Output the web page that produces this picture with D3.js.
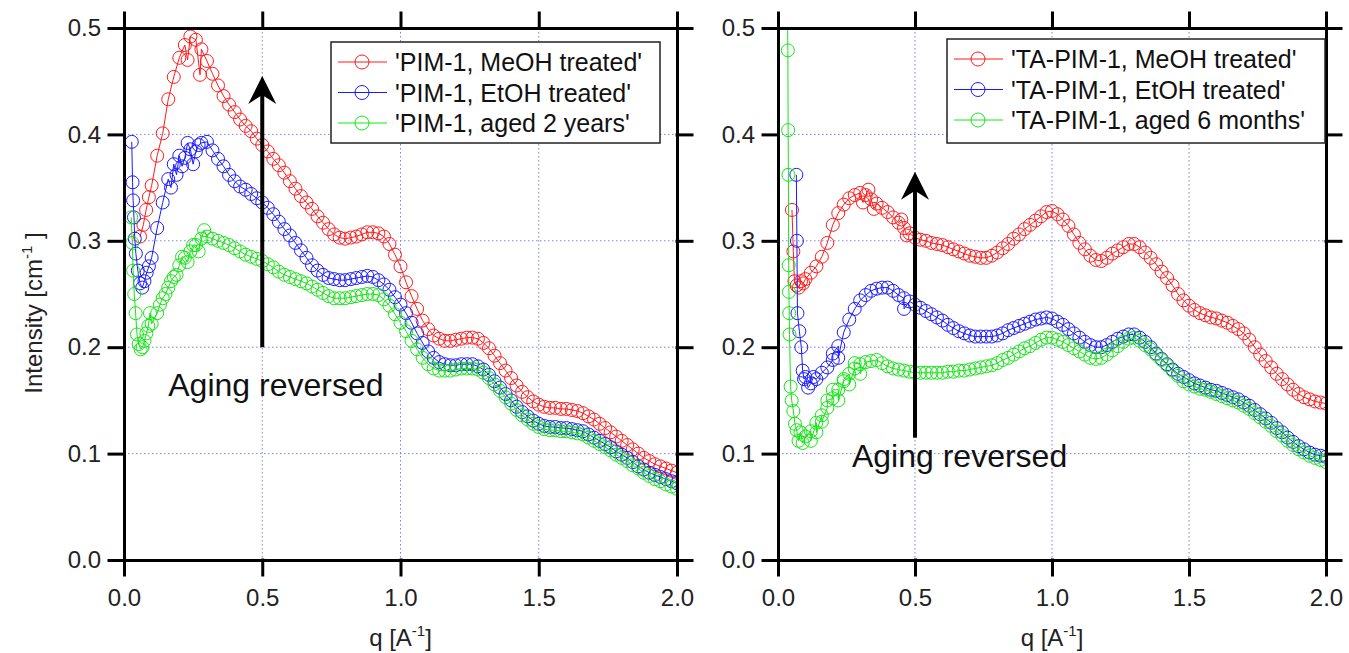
<!DOCTYPE html>
<html lang="en">
<head>
<meta charset="UTF-8">
<title>SAXS - aging reversed</title>
<script src="https://cdn.jsdelivr.net/npm/d3@7/dist/d3.min.js"></script>
<style>
  body { margin: 0; background: #fff; }
  svg { font-family: "Liberation Sans", Arial, sans-serif; }
  .grid line { stroke: #7f7ff0; stroke-width: 1; stroke-dasharray: 1.5, 2.5; }
  .axis path, .axis line { stroke: #000; stroke-width: 3; stroke-linecap: square; }
  .axis text { fill: #222; }
</style>
</head>
<body>
<script>
// q grid shared by both panels
const qGrid = [
  0.10, 0.12, 0.14, 0.16, 0.18, 0.20, 0.22, 0.24, 0.26, 0.28,
  0.30, 0.32, 0.34, 0.36, 0.38, 0.40, 0.42, 0.44, 0.46, 0.48,
  0.50, 0.52, 0.54, 0.56, 0.58, 0.60, 0.62, 0.64, 0.66, 0.68,
  0.70, 0.72, 0.74, 0.76, 0.78, 0.80, 0.82, 0.84, 0.86, 0.88,
  0.90, 0.92, 0.94, 0.96, 0.98, 1.00, 1.02, 1.04, 1.06, 1.08,
  1.10, 1.12, 1.14, 1.16, 1.18, 1.20, 1.22, 1.24, 1.26, 1.28,
  1.30, 1.32, 1.34, 1.36, 1.38, 1.40, 1.42, 1.44, 1.46, 1.48,
  1.50, 1.52, 1.54, 1.56, 1.58, 1.60, 1.62, 1.64, 1.66, 1.68,
  1.70, 1.72, 1.74, 1.76, 1.78, 1.80, 1.82, 1.84, 1.86, 1.88,
  1.90, 1.92, 1.94, 1.96, 1.98, 2.00
];

// left panel: PIM-1
const pimMeoh = [
  .352, .380, .401, .433, .454, .472, .484, .492, .489, .480,
  .469, .457, .446, .436, .428, .421, .414, .408, .403, .396,
  .390, .384, .377, .371, .364, .356, .349, .342, .336, .330,
  .323, .317, .311, .306, .303, .302, .303, .304, .306, .308,
  .308, .307, .304, .297, .287, .276, .261, .248, .236, .225,
  .217, .211, .208, .206, .206, .207, .208, .209, .209, .208,
  .204, .199, .192, .185, .178, .171, .164, .158, .153, .149,
  .146, .144, .143, .143, .142, .142, .141, .140, .138, .135,
  .132, .128, .124, .120, .116, .112, .108, .104, .100, .096,
  .093, .090, .088, .086, .084, .082
];
const pimMeohLow = [[0.058, .304], [0.070, .315], [0.080, .329], [0.090, .341], [0.230, .470], [0.275, .456]];

const pimEtoh = [
  .284, .312, .336, .358, .372, .380, .378, .386, .384, .392,
  .393, .385, .377, .370, .362, .356, .351, .348, .344, .340,
  .336, .331, .325, .318, .311, .305, .298, .291, .284, .277,
  .272, .268, .265, .264, .263, .263, .264, .265, .266, .267,
  .266, .263, .259, .254, .247, .240, .232, .223, .213, .204,
  .196, .190, .186, .184, .183, .183, .184, .184, .184, .182,
  .179, .174, .168, .162, .156, .150, .144, .139, .135, .131,
  .128, .126, .125, .125, .124, .124, .123, .122, .121, .118,
  .115, .112, .109, .106, .102, .099, .096, .092, .088, .085,
  .082, .080, .078, .076, .074, .072
];
const pimEtohLow = [
  [0.028, .393], [0.031, .355], [0.033, .338], [0.036, .322], [0.039, .302], [0.043, .288],
  [0.050, .272], [0.058, .260], [0.066, .256], [0.074, .262], [0.082, .270], [0.090, .276],
  [0.170, .350], [0.190, .362], [0.210, .370], [0.230, .392], [0.250, .372], [0.270, .390]
];

const pimAged = [
  .222, .232, .246, .256, .266, .277, .284, .290, .296, .302,
  .304, .302, .300, .298, .296, .293, .290, .287, .285, .283,
  .281, .278, .275, .271, .268, .266, .264, .262, .260, .257,
  .254, .251, .248, .246, .246, .246, .247, .248, .249, .250,
  .250, .249, .245, .239, .231, .223, .215, .206, .198, .190,
  .184, .180, .178, .178, .178, .179, .180, .180, .180, .179,
  .176, .171, .165, .159, .153, .147, .141, .136, .132, .128,
  .125, .123, .122, .122, .121, .121, .120, .119, .118, .115,
  .112, .109, .106, .103, .099, .096, .093, .089, .086, .082,
  .079, .076, .074, .071, .069, .067
];
const pimAgedLow = [
  [0.026, .322], [0.030, .298], [0.033, .272], [0.037, .250], [0.042, .232], [0.047, .212],
  [0.053, .203], [0.060, .198], [0.067, .200], [0.074, .206], [0.081, .213], [0.088, .220],
  [0.094, .232], [0.130, .240], [0.150, .250], [0.170, .262], [0.190, .268], [0.210, .285],
  [0.230, .280], [0.250, .296], [0.270, .290], [0.290, .310]
];

// right panel: TA-PIM-1
const taMeoh = [
  .264, .270, .276, .285, .298, .315, .326, .334, .340, .343,
  .345, .343, .339, .335, .331, .327, .322, .317, .312, .307,
  .303, .301, .300, .298, .297, .296, .294, .292, .290, .288,
  .286, .285, .284, .284, .286, .289, .293, .297, .302, .306,
  .311, .315, .319, .323, .327, .328, .325, .320, .314, .306,
  .298, .292, .286, .282, .281, .284, .288, .291, .294, .297,
  .297, .294, .289, .284, .278, .271, .265, .258, .250, .244,
  .239, .235, .232, .230, .228, .227, .225, .223, .220, .217,
  .213, .207, .200, .193, .187, .181, .175, .170, .165, .160,
  .156, .153, .151, .149, .148, .147
];
const taMeohLow = [
  [0.051, .329], [0.056, .290], [0.060, .262], [0.068, .258], [0.076, .256], [0.084, .262],
  [0.092, .260], [0.310, .336], [0.330, .348], [0.350, .330], [0.450, .320], [0.470, .305]
];

const taEtoh = [
  .172, .166, .170, .176, .181, .188, .201, .214, .226, .236,
  .244, .249, .253, .255, .256, .256, .253, .249, .246, .243,
  .240, .237, .234, .231, .228, .225, .221, .218, .215, .213,
  .211, .210, .210, .210, .210, .211, .213, .216, .218, .220,
  .222, .224, .226, .227, .228, .227, .224, .221, .217, .213,
  .209, .205, .202, .200, .200, .202, .205, .208, .210, .212,
  .212, .209, .205, .200, .194, .189, .184, .179, .175, .172,
  .169, .166, .164, .162, .160, .159, .157, .155, .153, .151,
  .148, .145, .141, .137, .133, .129, .124, .120, .115, .111,
  .107, .104, .101, .099, .098, .097
];
const taEtohLow = [
  [0.067, .362], [0.069, .300], [0.071, .232], [0.078, .215], [0.085, .200], [0.090, .178],
  [0.095, .170], [0.110, .162], [0.130, .172], [0.200, .194], [0.220, .190], [0.460, .236]
];

const taAged = [
  .116, .121, .129, .136, .143, .152, .160, .168, .175, .180,
  .184, .186, .187, .188, .185, .182, .180, .179, .178, .177,
  .176, .176, .176, .176, .176, .176, .177, .177, .178, .178,
  .179, .180, .181, .182, .183, .185, .188, .190, .193, .196,
  .199, .201, .204, .207, .209, .209, .207, .205, .202, .199,
  .196, .193, .190, .189, .190, .193, .197, .201, .205, .208,
  .209, .206, .202, .198, .193, .188, .183, .178, .173, .168,
  .165, .163, .161, .160, .158, .156, .154, .152, .150, .148,
  .145, .142, .138, .134, .130, .126, .121, .117, .112, .108,
  .104, .101, .098, .096, .094, .092
];
const taAgedLow = [
  [0.030, .620], [0.036, .479], [0.037, .404], [0.038, .362], [0.039, .277], [0.040, .252],
  [0.041, .232], [0.042, .212], [0.046, .163], [0.050, .150], [0.056, .140], [0.062, .128],
  [0.068, .122], [0.075, .112], [0.082, .120], [0.090, .110], [0.120, .112], [0.140, .120],
  [0.160, .130], [0.180, .150], [0.200, .160], [0.220, .150], [0.240, .170], [0.260, .165],
  [0.280, .185], [0.300, .175]
];

const xTicks = [0, 0.5, 1.0, 1.5, 2.0];
const yTicks = [0, 0.1, 0.2, 0.3, 0.4, 0.5];
const colors = ['#ff1a1a', '#1a1aff', '#14e614'];

const width = 1349, height = 653;
const plotTop = 28, plotBottom = 560;

const svg = d3.select('body').append('svg')
  .attr('width', width)
  .attr('height', height);

function merge (vals, low) {
  return qGrid.map((q, i) => [q, vals[i]]).concat(low).sort((a, b) => a[0] - b[0]);
}

const panels = [
  {
    left: 124, right: 677,
    names: ["'PIM-1, MeOH treated'", "'PIM-1, EtOH treated'", "'PIM-1, aged 2 years'"],
    data: [merge(pimMeoh, pimMeohLow), merge(pimEtoh, pimEtohLow), merge(pimAged, pimAgedLow)],
    legend: { x: 331, y: 42, w: 329, h: 101 },
    arrow: [0.2, 0.455],
    note: [0.16, 0.154],
    yTitle: true
  },
  {
    left: 778, right: 1326,
    names: ["'TA-PIM-1, MeOH treated'", "'TA-PIM-1, EtOH treated'", "'TA-PIM-1, aged 6 months'"],
    data: [merge(taMeoh, taMeohLow), merge(taEtoh, taEtohLow), merge(taAged, taAgedLow)],
    legend: { x: 947, y: 39, w: 378, h: 104 },
    arrow: [0.115, 0.365],
    note: [0.27, 0.087],
    yTitle: false
  }
];

panels.forEach((p, pi) => {
  const x = d3.scaleLinear().domain([0, 2]).range([p.left, p.right]);
  const y = d3.scaleLinear().domain([0, 0.5]).range([plotBottom, plotTop]);
  const g = svg.append('g');

  // dotted grid
  const grid = g.append('g').attr('class', 'grid');
  grid.selectAll('.gx').data([0.5, 1.0, 1.5]).enter().append('line')
    .attr('x1', d => x(d)).attr('x2', d => x(d))
    .attr('y1', plotTop).attr('y2', plotBottom);
  grid.selectAll('.gy').data([0.1, 0.2, 0.3, 0.4]).enter().append('line')
    .attr('x1', p.left).attr('x2', p.right)
    .attr('y1', d => y(d)).attr('y2', d => y(d));

  // clip
  svg.append('clipPath').attr('id', 'clip' + pi)
    .append('rect')
    .attr('x', p.left).attr('y', plotTop)
    .attr('width', p.right - p.left).attr('height', plotBottom - plotTop);

  const plot = g.append('g').attr('clip-path', `url(#clip${pi})`);
  const line = d3.line().x(d => x(d[0])).y(d => y(d[1]));

  p.data.forEach((pts, si) => {
    const s = plot.append('g');
    s.append('path')
      .attr('d', line(pts))
      .attr('fill', 'none')
      .attr('stroke', colors[si])
      .attr('stroke-width', 1);
    s.selectAll('circle').data(pts).enter().append('circle')
      .attr('cx', d => x(d[0]))
      .attr('cy', d => y(d[1]))
      .attr('r', 6.5)
      .attr('fill', 'none')
      .attr('stroke', colors[si])
      .attr('stroke-width', 1);
  });

  // arrow + note
  const ax = x(0.5), y0 = y(p.arrow[0]), y1 = y(p.arrow[1]);
  g.append('line')
    .attr('x1', ax).attr('x2', ax)
    .attr('y1', y0).attr('y2', y1 + 16)
    .attr('stroke', '#000').attr('stroke-width', 4);
  g.append('path')
    .attr('d', `M${ax},${y1} L${ax - 14},${y1 + 28} L${ax},${y1 + 19} L${ax + 14},${y1 + 28} Z`)
    .attr('fill', '#000');
  g.append('text')
    .attr('x', x(p.note[0])).attr('y', y(p.note[1]))
    .attr('font-size', 32)
    .attr('fill', '#111')
    .text('Aging reversed');

  // axes on all four sides, ticks outside
  const fmt = d3.format('.1f');
  const bottomAxis = g.append('g').attr('class', 'axis')
    .attr('transform', `translate(0,${plotBottom})`)
    .call(d3.axisBottom(x).tickValues(xTicks).tickSizeInner(15).tickSizeOuter(0).tickPadding(14).tickFormat(fmt));
  const leftAxis = g.append('g').attr('class', 'axis')
    .attr('transform', `translate(${p.left},0)`)
    .call(d3.axisLeft(y).tickValues(yTicks).tickSizeInner(15).tickSizeOuter(0).tickPadding(8).tickFormat(fmt));
  g.append('g').attr('class', 'axis')
    .attr('transform', `translate(0,${plotTop})`)
    .call(d3.axisTop(x).tickValues(xTicks).tickSizeInner(15).tickSizeOuter(0).tickFormat(''));
  g.append('g').attr('class', 'axis')
    .attr('transform', `translate(${p.right},0)`)
    .call(d3.axisRight(y).tickValues(yTicks).tickSizeInner(15).tickSizeOuter(0).tickFormat(''));
  [bottomAxis, leftAxis].forEach(a => a
    .attr('font-size', 24)
    .attr('font-family', '"Liberation Sans", Arial, sans-serif'));

  // x title
  const xt = g.append('text')
    .attr('x', (p.left + p.right) / 2)
    .attr('y', 646)
    .attr('text-anchor', 'middle')
    .attr('font-size', 24)
    .attr('fill', '#222');
  xt.append('tspan').text('q [A');
  xt.append('tspan').attr('font-size', 15).attr('dy', -10).text('-1');
  xt.append('tspan').attr('dy', 10).text(']');

  if (p.yTitle) {
    const yt = g.append('text')
      .attr('transform', `translate(42,${(plotTop + plotBottom) / 2 + 19}) rotate(-90)`)
      .attr('text-anchor', 'middle')
      .attr('font-size', 24)
      .attr('fill', '#222');
    yt.append('tspan').text('Intensity [cm');
    yt.append('tspan').attr('font-size', 15).attr('dy', -10).text('-1');
    yt.append('tspan').attr('dy', 10).text(' ]');
  }

  // legend
  const L = p.legend;
  const lg = g.append('g');
  lg.append('rect')
    .attr('x', L.x).attr('y', L.y).attr('width', L.w).attr('height', L.h)
    .attr('fill', '#fff').attr('stroke', '#222').attr('stroke-width', 1.5);
  p.names.forEach((name, i) => {
    const cy = L.y + 20 + i * 30.5;
    lg.append('line')
      .attr('x1', L.x + 7).attr('x2', L.x + 56)
      .attr('y1', cy).attr('y2', cy)
      .attr('stroke', colors[i]).attr('stroke-width', 1);
    lg.append('circle')
      .attr('cx', L.x + 31).attr('cy', cy).attr('r', 7)
      .attr('fill', 'none').attr('stroke', colors[i]).attr('stroke-width', 1);
    lg.append('text')
      .attr('x', L.x + 64).attr('y', cy).attr('dy', '0.36em')
      .attr('font-size', 25)
      .attr('fill', '#111')
      .text(name);
  });
});
</script>
</body>
</html>
